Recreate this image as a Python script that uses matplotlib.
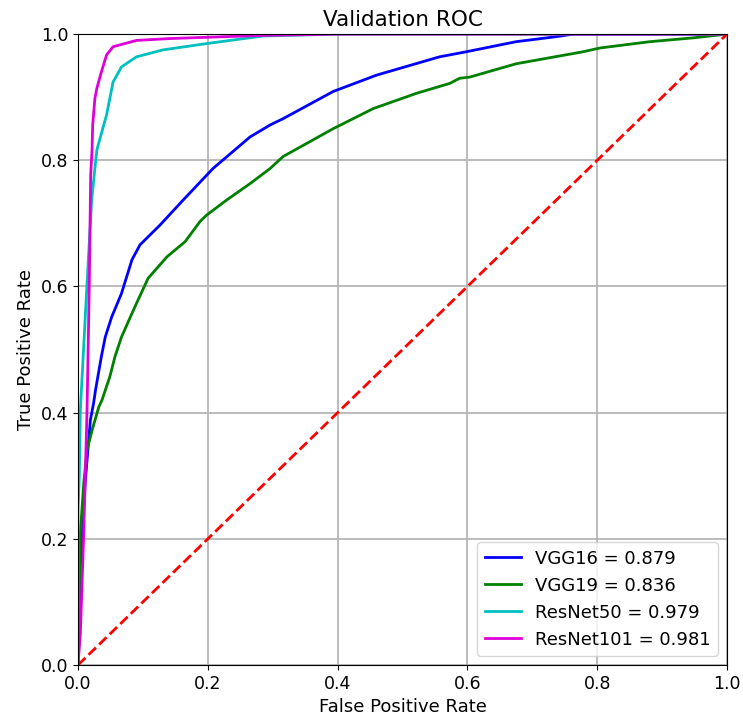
import matplotlib
matplotlib.use('Agg')
import matplotlib.pyplot as plt

# ROC points (fpr, tpr)
vgg16_fpr = [0.0, 0.0036, 0.011, 0.019, 0.024, 0.027, 0.036, 0.042, 0.052, 0.067, 0.083, 0.0955,
             0.126, 0.162, 0.208, 0.265, 0.296, 0.316, 0.393, 0.460, 0.557, 0.598, 0.675, 0.737,
             0.763, 1.0]
vgg16_tpr = [0.0, 0.156, 0.288, 0.388, 0.415, 0.436, 0.489, 0.520, 0.552, 0.589, 0.642, 0.666,
             0.697, 0.737, 0.787, 0.837, 0.856, 0.866, 0.909, 0.935, 0.964, 0.972, 0.988, 0.996,
             1.0, 1.0]

vgg19_fpr = [0.0, 0.0036, 0.0088, 0.0139, 0.0216, 0.032, 0.037, 0.049, 0.057, 0.067, 0.083, 0.090,
             0.108, 0.137, 0.165, 0.188, 0.198, 0.229, 0.265, 0.296, 0.316, 0.393, 0.455, 0.521,
             0.573, 0.588, 0.604, 0.675, 0.778, 0.804, 0.881, 0.947, 1.0]
vgg19_tpr = [0.0, 0.209, 0.288, 0.341, 0.372, 0.409, 0.42, 0.457, 0.489, 0.520, 0.557, 0.573,
             0.613, 0.647, 0.671, 0.703, 0.713, 0.737, 0.763, 0.787, 0.806, 0.850, 0.882, 0.906,
             0.922, 0.930, 0.932, 0.953, 0.972, 0.978, 0.988, 0.994, 1.0]

res50_fpr = [0.0, 0.0, 0.002, 0.0036, 0.0139, 0.021, 0.026, 0.029, 0.031, 0.044, 0.054, 0.067,
             0.090, 0.131, 0.198, 0.285, 0.40, 1.0]
res50_tpr = [0.0, 0.246, 0.30, 0.404, 0.605, 0.737, 0.787, 0.816, 0.824, 0.872, 0.924, 0.948,
             0.964, 0.975, 0.985, 0.997, 1.0, 1.0]

res101_fpr = [0.0, 0.0036, 0.0088, 0.0139, 0.0174, 0.0195, 0.0216, 0.0226, 0.026, 0.029, 0.036,
              0.044, 0.054, 0.090, 0.142, 0.285, 0.40, 1.0]
res101_tpr = [0.0, 0.05, 0.209, 0.404, 0.605, 0.777, 0.816, 0.856, 0.898, 0.914, 0.940,
              0.967, 0.980, 0.990, 0.993, 0.998, 1.0, 1.0]

labels = ['VGG16 = 0.879', 'VGG19 = 0.836', 'ResNet50 = 0.979', 'ResNet101 = 0.981']
colors = ['#0000ff', '#008000', '#00bfbf', '#dd00d8']

fig = plt.figure(figsize=(7.43, 7.26), dpi=100)
ax = fig.add_axes([0.105, 0.084, 0.8735, 0.869])

curves = [(vgg16_fpr, vgg16_tpr), (vgg19_fpr, vgg19_tpr),
          (res50_fpr, res50_tpr), (res101_fpr, res101_tpr)]
for (f, t), c, lab in zip(curves, colors, labels):
    ax.plot(f, t, color=c, lw=2, label=lab)
ax.plot([0, 1], [0, 1], 'r--', lw=2)

ax.set_xlim(0, 1)
ax.set_ylim(0, 1)
ax.set_title('Validation ROC', fontsize=15.5)
ax.set_xlabel('False Positive Rate', fontsize=13)
ax.set_ylabel('True Positive Rate', fontsize=13)
ax.tick_params(labelsize=12.5)
ax.grid(True, color='#b0b0b0', lw=1.2)
ax.legend(loc='lower right', fontsize=13)

plt.savefig('out.png', dpi=100)
